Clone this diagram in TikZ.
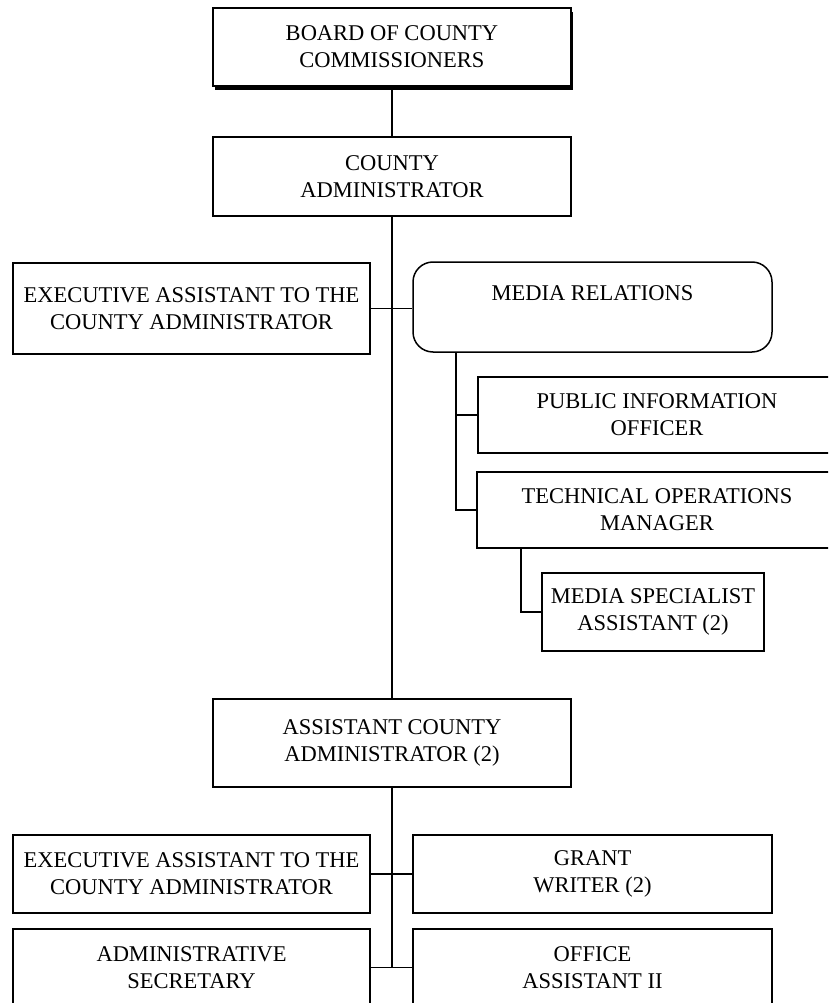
\documentclass[tikz,border=0pt]{standalone}
\usepackage{fontspec}
\setmainfont{Liberation Serif}
\begin{document}
\begin{tikzpicture}[x=1pt,y=-1pt,
  every node/.style={font=\fontsize{22.5}{27}\selectfont, align=center, inner sep=0pt},
  box/.style={draw, line width=1.5pt, rectangle},
  rbox/.style={box, rounded corners=20pt},
  link/.style={line width=1.6pt}]
\useasboundingbox (0,0) rectangle (828,1003);
\clip (0,0) rectangle (828,1003);

% top of the chart (board box with a drop shadow)
\fill (215,12) rectangle (573,90);
\node[box, fill=white, minimum width=358pt, minimum height=78pt] (board) at (392,47)
  {BOARD OF COUNTY\\COMMISSIONERS};
\node[box, minimum width=358pt, minimum height=79pt] (ca) at (392,176.5)
  {COUNTY\\ADMINISTRATOR};

% staff reporting to the administrator
\node[box, minimum width=357pt, minimum height=91pt] (ea1) at (191.5,308.5)
  {EXECUTIVE ASSISTANT TO THE\\COUNTY ADMINISTRATOR};
\node[rbox, minimum width=359pt, minimum height=90pt] (media) at (592.5,307)
  {MEDIA RELATIONS\\\mbox{}};
\node[box, minimum width=358pt, minimum height=76pt] (pio) at (657,415)
  {PUBLIC INFORMATION\\OFFICER};
\node[box, minimum width=360pt, minimum height=76pt] (tom) at (657,510)
  {TECHNICAL OPERATIONS\\MANAGER};
\node[box, minimum width=222pt, minimum height=78pt] (msa) at (653,612)
  {MEDIA SPECIALIST\\ASSISTANT (2)};

% assistant administrators and their staff
\node[box, minimum width=358pt, minimum height=88pt] (aca) at (392,743)
  {ASSISTANT COUNTY\\ADMINISTRATOR (2)};
\node[box, minimum width=357pt, minimum height=78pt] (ea2) at (191.5,874)
  {EXECUTIVE ASSISTANT TO THE\\COUNTY ADMINISTRATOR};
\node[box, minimum width=359pt, minimum height=78pt] (gw) at (592.5,874)
  {GRANT\\WRITER (2)};
\node[box, minimum width=357pt, minimum height=77pt] (as) at (191.5,967.5)
  {ADMINISTRATIVE\\SECRETARY};
\node[box, minimum width=359pt, minimum height=77pt] (oa) at (592.5,967.5)
  {OFFICE\\ASSISTANT II};

% connectors
\coordinate (spineend) at (392,967.5);
\coordinate (mtap) at (456,352);
\coordinate (ttap) at (521,548);
\draw[link] (board.south) -- (ca.north);
\draw[link] (ca.south) -- (aca.north);
\draw[link] (aca.south) -- (spineend);
\draw[link] (ea1.east) -- (ea1.east -| media.west);
\draw[link] (mtap) |- (pio.west);
\draw[link] (mtap) |- (tom.west);
\draw[link] (ttap) |- (msa.west);
\draw[link] (ea2.east) -- (gw.west);
\draw[link] (as.east) -- (oa.west);
\end{tikzpicture}
\end{document}
